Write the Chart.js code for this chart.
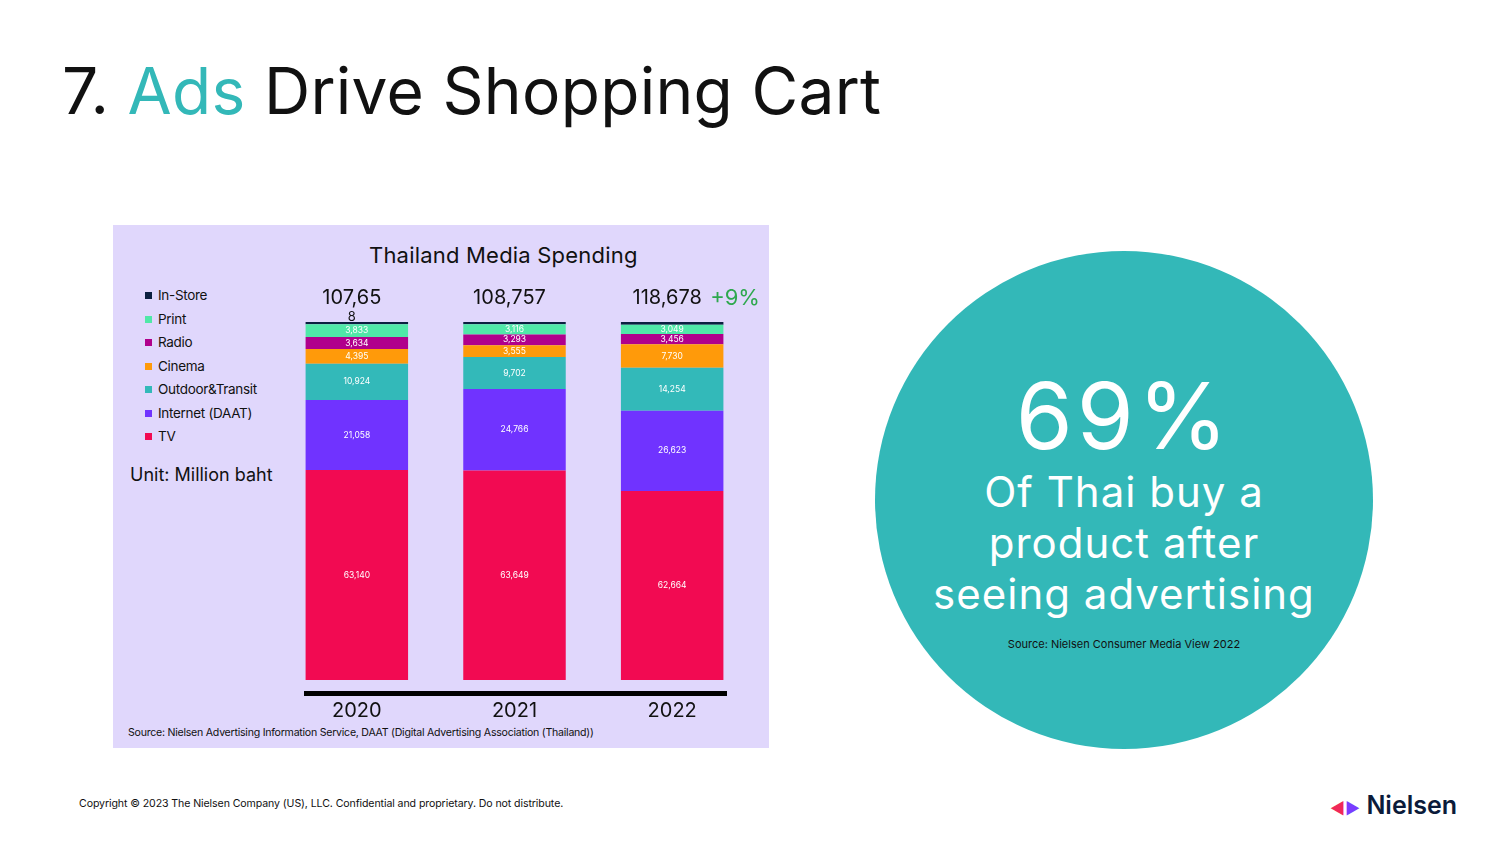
<!DOCTYPE html>
<html><head><meta charset="utf-8">
<script src="https://cdn.jsdelivr.net/npm/chart.js@4"></script>
<style>
body{margin:0;width:1500px;height:844px;background:#fff;font-family:Inter,"Noto Sans",sans-serif;position:relative;overflow:hidden}
.abs{position:absolute}
#title{left:62px;top:52px;font-size:64px;color:#111;letter-spacing:0.3px}
#panel{left:113px;top:225px;width:656px;height:523px;background:#e0d7fc}
#legend{left:145px;top:284px;font-size:13.5px;color:#111;line-height:23.5px;letter-spacing:-0.3px}
#legend span{display:inline-block;width:7px;height:7px;margin-right:6px;vertical-align:1px}
#circle{left:875px;top:251px;width:498px;height:498px;border-radius:50%;background:#33b8b8;color:#fff;text-align:center}
</style></head><body>
<div id="title" class="abs">7. <span style="color:#33b8b8">Ads</span> Drive Shopping Cart</div>
<div id="panel" class="abs"></div>
<div class="abs" style="left:369px;top:242px;font-size:22px;color:#111;letter-spacing:0.2px">Thailand Media Spending</div>
<div id="legend" class="abs"></div>
<div class="abs" style="left:130px;top:464px;font-size:18px;color:#111">Unit: Million baht</div>
<div class="abs" style="left:128px;top:726px;font-size:10.6px;color:#111;letter-spacing:-0.25px">Source: Nielsen Advertising Information Service, DAAT (Digital Advertising Association (Thailand))</div>
<canvas id="c" class="abs" width="656" height="523" style="left:113px;top:225px"></canvas>
<div id="circle" class="abs">
 <div style="font-size:92px;margin-top:115px;line-height:100px;letter-spacing:4px">69%</div>
 <div style="font-size:42px;line-height:51px;letter-spacing:1px">Of Thai buy a<br>product after<br>seeing advertising</div>
 <div style="font-size:11px;color:#111;margin-top:18px">Source: Nielsen Consumer Media View 2022</div>
</div>
<div class="abs" style="left:79px;top:797px;font-size:10.6px;color:#111;letter-spacing:-0.1px">Copyright © 2023 The Nielsen Company (US), LLC. Confidential and proprietary. Do not distribute.</div>
<div class="abs" style="left:1330px;top:790px;font-size:25px;font-weight:600;color:#0b1b3a">
<span style="font-size:16px"><span style="color:#f0285a">◀</span><span style="color:#7a3cff">▶</span></span> Nielsen</div>
<script>
const years = ['2020', '2021', '2022'];
const totals = ['107,65\n8', '108,757', '118,678'];
const seriesNames = ['TV', 'Internet (DAAT)', 'Outdoor&Transit', 'Cinema', 'Radio', 'Print', 'In-Store'];
const tv = [63140, 63649, 62664];
const internet = [21058, 24766, 26623];
const outdoor = [10924, 9702, 14254];
const cinema = [4395, 3555, 7730];
const radio = [3634, 3293, 3456];
const print = [3833, 3116, 3049];
const inStore = [674, 676, 902];
const colors = ['#f20a52', '#7033ff', '#33b9b9', '#ff9a0a', '#b0008c', '#50e8a8', '#0b1f40'];
const values = [tv, internet, outdoor, cinema, radio, print, inStore];

document.getElementById('legend').innerHTML = seriesNames.map((n, i) =>
  '<span style="background:' + colors[i] + '"></span>' + n).reverse().join('<br>');

// bars are drawn as shares of each year's total (all bars same height)
const sums = years.map((y, j) => values.reduce((s, v) => s + v[j], 0));
const datasets = values.map((v, i) => ({
  label: seriesNames[i],
  data: v.map((x, j) => x / sums[j] * 100),
  raw: v,
  backgroundColor: colors[i],
  borderWidth: 0,
  barPercentage: 0.65,
  categoryPercentage: 1
}));

const extras = {
  id: 'extras',
  afterDatasetsDraw(chart) {
    const ctx = chart.ctx, x = chart.scales.x, a = chart.chartArea;
    ctx.save();
    ctx.textAlign = 'center';
    ctx.textBaseline = 'middle';
    ctx.fillStyle = '#fff';
    ctx.font = '8.5px Inter, sans-serif';
    chart.data.datasets.forEach((ds, i) => {
      if (i === 6) return;
      chart.getDatasetMeta(i).data.forEach((bar, j) => {
        ctx.fillText(ds.raw[j].toLocaleString('en-US'), bar.x, (bar.y + bar.base) / 2);
      });
    });
    ctx.fillStyle = '#000';
    ctx.fillRect(a.left + 26, a.bottom + 11, a.right - a.left - 50, 5);
    ctx.fillStyle = '#111';
    ctx.font = '20px Inter, sans-serif';
    years.forEach((y, j) => {
      const px = x.getPixelForValue(j);
      ctx.fillText(y, px, a.bottom + 31);
      const lines = totals[j].split('\n');
      ctx.fillText(lines[0], px - 5, a.top - 24);
      if (lines[1]) { ctx.font = '13px Inter, sans-serif'; ctx.fillText(lines[1], px - 5, a.top - 5); ctx.font = '20px Inter, sans-serif'; }
    });
    const p2 = x.getPixelForValue(2);
    ctx.fillStyle = '#2ea84e';
    ctx.textAlign = 'left';
    ctx.font = '22px Inter, sans-serif';
    ctx.fillText('+9%', p2 + 38, a.top - 24);
    ctx.restore();
  }
};

new Chart(document.getElementById('c'), {
  type: 'bar',
  data: { labels: years, datasets },
  options: {
    responsive: false,
    animation: false,
    devicePixelRatio: 1,
    layout: { padding: { left: 165, right: 18, top: 97, bottom: 68 } },
    plugins: { legend: { display: false }, tooltip: { enabled: false } },
    scales: {
      x: { stacked: true, display: false },
      y: { stacked: true, display: false, min: 0, max: 100 }
    }
  },
  plugins: [extras]
});
</script>
</body></html>
